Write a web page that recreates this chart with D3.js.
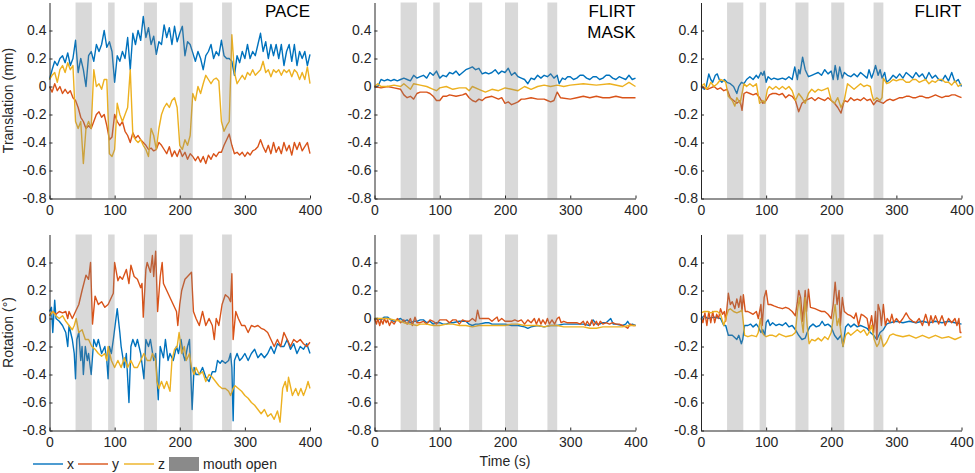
<!DOCTYPE html>
<html><head><meta charset="utf-8">
<script src="https://cdn.jsdelivr.net/npm/d3@7"></script>
<style>
body{margin:0;background:#fff;}
svg{display:block;font-family:"Liberation Sans",Arial,Helvetica,sans-serif;}
</style></head>
<body><svg id="chart" width="975" height="473"></svg>
<script>
// ---------- DATA ----------
const xTicks = [0,100,200,300,400];
const yTicks = [-0.8,-0.6,-0.4,-0.2,0,0.2,0.4];
const mouthOpen = [[40,65],[90,100],[145,165],[200,220],[265,280]];
const seriesNames = ["x","y","z"];
const panelTitles = [["PACE"],["FLIRT","MASK"],["FLIRT"]];
const rowLabels = ["Translation (mm)","Rotation (°)"];

// Translation - PACE
const paceTx = [[0,.05],[4,.12],[8,.18],[12,.15],[16,.2],[20,.22],[24,.17],[28,.24],[32,.15],[36,.2],[40,.33],[44,.1],[48,.2],[52,.12],[56,0],[60,.22],[64,.25],[68,.18],[72,.3],[76,.25],[80,.3],[84,.4],[88,.28],[92,.32],[96,.25],[100,.03],[104,.22],[108,.18],[112,.25],[116,.2],[120,.35],[124,.12],[128,.38],[132,.3],[136,.4],[140,.33],[144,.5],[148,.35],[152,.42],[156,.3],[160,.36],[164,.23],[168,.32],[172,.3],[176,.44],[180,.35],[184,.42],[188,.3],[192,.43],[196,.32],[200,.38],[204,.43],[208,.22],[212,.32],[216,.3],[220,.24],[224,.18],[228,.25],[232,.2],[236,.12],[240,.22],[244,.25],[248,.3],[252,.2],[256,.25],[260,.22],[264,.33],[268,.22],[272,.2],[276,.2],[280,.18],[284,.08],[288,.22],[292,.17],[296,.25],[300,.2],[304,.3],[308,.2],[312,.25],[316,.22],[320,.3],[324,.38],[328,.25],[332,.32],[336,.2],[340,.3],[344,.22],[348,.3],[352,.2],[356,.3],[360,.15],[364,.25],[368,.3],[372,.18],[376,.3],[380,.15],[384,.25],[388,.2],[392,.25],[396,.15],[400,.23]];
const paceTy = [[0,0],[4,-.04],[8,.02],[12,-.03],[16,0],[20,-.05],[24,-.02],[28,-.05],[32,-.03],[36,-.08],[40,-.1],[44,-.15],[48,-.22],[52,-.25],[56,-.3],[60,-.28],[64,-.3],[68,-.25],[72,-.2],[76,-.18],[80,-.22],[84,-.2],[88,-.28],[92,-.38],[96,-.36],[100,-.2],[104,-.25],[108,-.28],[112,-.25],[116,-.32],[120,-.35],[124,-.4],[128,-.33],[132,-.37],[136,-.35],[140,-.38],[144,-.4],[148,-.42],[152,-.45],[156,-.44],[160,-.46],[164,-.45],[168,-.4],[172,-.42],[176,-.45],[180,-.48],[184,-.43],[188,-.5],[192,-.46],[196,-.5],[200,-.45],[204,-.5],[208,-.47],[212,-.52],[216,-.48],[220,-.5],[224,-.53],[228,-.5],[232,-.54],[236,-.5],[240,-.55],[244,-.49],[248,-.52],[252,-.48],[256,-.5],[260,-.47],[264,-.47],[268,-.42],[272,-.38],[276,-.34],[280,-.42],[284,-.48],[288,-.47],[292,-.49],[296,-.47],[300,-.5],[304,-.47],[308,-.49],[312,-.46],[316,-.45],[320,-.43],[324,-.38],[328,-.43],[332,-.47],[336,-.42],[340,-.48],[344,-.4],[348,-.47],[352,-.43],[356,-.48],[360,-.4],[364,-.46],[368,-.42],[372,-.49],[376,-.4],[380,-.45],[384,-.4],[388,-.46],[392,-.43],[396,-.4],[400,-.48]];
const paceTz = [[0,.05],[4,.08],[8,.1],[12,.03],[16,.12],[20,.15],[24,.1],[28,.17],[32,.12],[36,.15],[40,-.25],[44,-.3],[48,-.25],[52,-.55],[56,-.3],[60,-.25],[64,-.3],[68,.12],[72,0],[76,.02],[80,-.02],[84,.05],[88,.05],[92,-.48],[96,-.5],[100,-.45],[104,-.12],[108,-.2],[112,-.25],[116,-.2],[120,-.15],[124,.12],[128,-.35],[132,-.38],[136,-.4],[140,-.38],[144,-.42],[148,-.45],[152,-.5],[156,-.3],[160,-.35],[164,-.45],[168,-.3],[172,-.2],[176,-.15],[180,-.12],[184,-.15],[188,-.1],[192,-.08],[196,-.15],[200,-.42],[204,-.45],[208,-.38],[212,-.42],[216,-.35],[220,-.05],[224,-.1],[228,0],[232,-.05],[236,.02],[240,.08],[244,.05],[248,.02],[252,.05],[256,.06],[260,.04],[264,-.25],[268,-.32],[272,-.28],[276,-.25],[280,.37],[284,.1],[288,.02],[292,.05],[296,.08],[300,.05],[304,.1],[308,.08],[312,.12],[316,.08],[320,.1],[324,.12],[328,.18],[332,.1],[336,.12],[340,.07],[344,.12],[348,.1],[352,.12],[356,.08],[360,.12],[364,.1],[368,.12],[372,.07],[376,.12],[380,.1],[384,.05],[388,.1],[392,.05],[396,.14],[400,.02]];

// Translation - FLIRT MASK
const maskTx = [[0,0],[5,0],[10,.05],[15,.04],[20,.05],[25,.04],[30,.05],[35,.04],[40,.05],[45,.06],[50,.05],[55,.04],[60,.08],[65,.06],[70,.07],[75,.08],[80,.06],[85,.1],[90,.08],[95,.11],[100,.06],[105,.08],[110,.07],[115,.1],[120,.09],[125,.11],[130,.08],[135,.1],[140,.12],[145,.13],[150,.14],[155,.12],[160,.13],[165,.09],[170,.1],[175,.09],[180,.1],[185,.12],[190,.09],[195,.11],[200,.1],[205,.13],[210,.08],[215,.1],[220,.07],[225,.06],[230,.05],[235,.02],[240,.06],[245,.05],[250,.08],[255,.06],[260,.08],[265,.07],[270,.09],[275,.06],[280,.08],[283,.02],[288,.06],[292,.05],[296,.07],[300,.07],[305,.05],[310,.06],[315,.08],[320,.08],[325,.06],[330,.05],[335,.07],[340,.07],[345,.05],[350,.06],[355,.08],[360,.08],[365,.06],[370,.05],[375,.07],[380,.06],[385,.05],[390,.08],[395,.05],[400,.06]];
const maskTy = [[0,0],[10,-.01],[20,0],[30,-.01],[40,-.02],[45,-.06],[50,-.08],[55,-.07],[60,-.09],[65,-.05],[70,-.04],[80,-.04],[85,-.05],[90,-.07],[95,-.1],[100,-.1],[105,-.07],[110,-.07],[115,-.06],[125,-.07],[135,-.06],[140,-.05],[145,-.08],[150,-.1],[155,-.11],[160,-.09],[165,-.1],[170,-.08],[180,-.07],[190,-.09],[195,-.08],[200,-.12],[205,-.11],[210,-.13],[215,-.12],[220,-.11],[225,-.09],[230,-.09],[240,-.08],[250,-.09],[260,-.09],[265,-.1],[270,-.11],[275,-.1],[280,-.04],[285,-.08],[300,-.09],[310,-.08],[320,-.07],[330,-.08],[340,-.07],[350,-.08],[360,-.08],[370,-.07],[380,-.08],[390,-.08],[400,-.08]];
const maskTz = [[0,0],[5,.02],[10,0],[20,0],[30,.01],[40,0],[45,.02],[50,0],[55,-.02],[60,.02],[70,.01],[80,0],[90,-.02],[95,-.03],[100,-.01],[110,0],[120,-.02],[130,-.01],[140,-.01],[145,-.03],[150,0],[160,-.02],[170,-.04],[180,-.02],[190,-.03],[200,-.01],[210,-.02],[220,-.03],[230,0],[240,-.02],[250,0],[260,.01],[270,0],[280,.01],[290,0],[300,.01],[320,.02],[340,.01],[360,.02],[380,0],[390,.03],[400,0]];

// Translation - FLIRT
const flirtTx = [[0,0],[5,-.02],[8,0],[12,.09],[15,.05],[18,.03],[22,.08],[25,.09],[28,.05],[32,.03],[36,.05],[40,.03],[45,.02],[50,0],[55,-.05],[58,0],[62,.03],[66,.02],[70,.05],[75,.07],[80,.05],[85,.08],[88,.06],[92,.1],[95,.08],[97,.11],[100,.03],[103,.07],[108,.05],[112,.06],[118,.05],[125,.06],[130,.05],[135,.07],[140,.05],[144,.14],[148,.05],[150,.12],[152,.09],[156,.21],[160,.12],[165,.07],[170,.08],[175,.09],[180,.1],[185,.08],[190,.12],[195,.09],[200,.11],[203,.05],[206,.15],[210,.05],[213,.14],[217,.06],[220,.1],[225,.08],[230,.07],[235,.09],[240,.07],[245,.1],[250,.08],[255,.06],[258,.12],[262,.06],[265,.1],[268,.15],[272,.08],[275,.12],[278,.06],[282,.1],[285,.03],[290,.05],[295,.08],[300,.06],[305,.09],[310,.06],[315,.1],[320,.08],[325,.06],[330,.1],[335,.07],[340,.09],[345,.05],[350,.1],[355,.06],[360,.08],[365,.05],[370,.04],[375,.08],[380,.04],[385,.1],[390,.03],[395,.05],[400,0]];
const flirtTy = [[0,0],[5,-.01],[10,-.02],[15,-.01],[20,0],[25,-.02],[30,-.01],[35,-.03],[40,-.02],[45,-.08],[50,-.1],[55,-.12],[60,-.1],[63,-.17],[66,-.05],[70,-.04],[75,-.05],[80,-.06],[85,-.05],[90,-.08],[95,-.12],[100,-.1],[105,-.06],[110,-.05],[115,-.05],[120,-.06],[125,-.05],[130,-.08],[135,-.06],[140,-.07],[145,-.1],[150,-.18],[155,-.12],[160,-.1],[165,-.09],[170,-.08],[175,-.1],[180,-.08],[185,-.09],[190,-.1],[195,-.08],[200,-.1],[205,-.12],[210,-.15],[215,-.19],[220,-.1],[225,-.11],[230,-.08],[235,-.1],[240,-.09],[245,-.1],[250,-.08],[255,-.1],[260,-.09],[265,-.13],[270,-.1],[275,-.11],[280,-.12],[285,-.1],[290,-.09],[295,-.1],[300,-.09],[305,-.08],[310,-.08],[315,-.07],[320,-.07],[325,-.08],[330,-.08],[335,-.07],[340,-.07],[345,-.08],[350,-.08],[355,-.07],[360,-.06],[365,-.07],[370,-.08],[375,-.07],[380,-.07],[385,-.06],[390,-.06],[395,-.07],[400,-.08]];
const flirtTz = [[0,0],[5,.02],[8,-.02],[12,0],[15,.03],[20,0],[25,.02],[30,.05],[35,.04],[38,.03],[42,-.07],[48,-.1],[52,-.14],[55,-.08],[60,-.12],[66,.02],[70,0],[75,.02],[80,0],[85,.02],[90,-.12],[95,-.1],[98,-.12],[102,-.02],[105,0],[110,-.02],[115,0],[120,-.02],[125,0],[130,-.02],[135,0],[140,-.03],[145,-.1],[150,-.05],[155,-.08],[160,-.12],[165,-.05],[170,-.02],[175,-.04],[180,-.02],[185,-.03],[190,-.02],[195,-.01],[200,-.1],[205,-.12],[210,-.08],[215,-.15],[220,-.1],[222,-.05],[225,.02],[230,0],[235,-.02],[240,0],[245,.02],[250,0],[255,.01],[260,0],[262,-.05],[265,-.1],[270,-.08],[275,-.1],[278,-.08],[280,.06],[285,.02],[290,.03],[295,.05],[300,.04],[305,.05],[310,.05],[315,.03],[320,.03],[325,.05],[330,.05],[335,.03],[340,.04],[345,.05],[350,.02],[355,.04],[360,.03],[365,.05],[370,.05],[375,.03],[380,.03],[385,.01],[390,.04],[395,0],[400,.02]];

// Rotation - PACE
const paceRx = [[0,.05],[3,.08],[5,-.1],[8,.13],[10,0],[15,-.02],[20,-.05],[25,-.1],[28,-.2],[30,-.05],[35,-.15],[38,-.25],[40,-.43],[42,-.15],[45,-.1],[48,-.3],[50,-.2],[52,-.4],[55,-.2],[58,-.3],[60,-.25],[64,-.4],[68,-.15],[72,-.2],[75,-.15],[80,-.25],[85,-.2],[88,-.3],[90,-.43],[92,-.2],[95,-.25],[98,-.15],[104,.07],[108,-.1],[110,-.2],[115,-.35],[118,-.25],[122,-.6],[125,-.2],[128,-.15],[132,-.2],[135,-.15],[140,-.25],[145,-.43],[148,-.15],[152,-.2],[155,-.15],[160,-.3],[163,-.25],[167,-.58],[170,-.2],[175,-.28],[178,-.15],[182,-.3],[185,-.25],[190,-.3],[195,-.2],[198,-.25],[202,-.15],[205,-.25],[208,-.3],[212,-.2],[215,-.15],[219,-.65],[222,-.35],[225,-.4],[230,-.4],[235,-.35],[240,-.42],[245,-.45],[250,-.38],[255,-.38],[258,-.3],[262,-.32],[265,-.3],[270,-.32],[275,-.3],[278,-.25],[280,-.35],[282,-.73],[284,-.3],[288,-.25],[292,-.3],[296,-.28],[300,-.25],[305,-.3],[310,-.25],[315,-.22],[320,-.28],[325,-.25],[330,-.28],[335,-.25],[340,-.2],[345,-.25],[350,-.18],[355,-.2],[360,-.2],[365,-.15],[370,-.22],[375,-.18],[380,-.25],[385,-.2],[390,-.22],[395,-.18],[400,-.25]];
const paceRy = [[0,.02],[5,.05],[10,.03],[15,.05],[20,.04],[25,.05],[28,0],[30,.05],[35,0],[40,.05],[45,.1],[50,.2],[56,.31],[60,.28],[63,.4],[66,-.04],[70,.16],[75,.1],[80,.12],[85,.08],[90,.1],[95,.15],[98,.18],[100,.4],[105,.27],[108,.3],[112,.28],[118,.35],[122,.25],[125,.38],[130,.3],[135,.28],[140,.22],[142,.25],[144,.01],[148,.35],[150,.4],[155,.33],[158,.45],[160,.3],[163,.48],[166,.05],[170,.3],[173,.4],[175,.25],[180,.2],[185,.15],[190,.1],[195,.05],[197,-.05],[200,.1],[203,.2],[208,.28],[212,.3],[218,.33],[221,.05],[225,0],[230,-.05],[235,.05],[240,-.05],[245,0],[250,-.05],[253,-.15],[256,0],[260,-.05],[265,.1],[270,.17],[275,.15],[278,.12],[280,.32],[282,-.15],[286,.05],[290,0],[295,-.05],[300,-.05],[305,-.1],[310,-.05],[315,-.06],[320,-.05],[325,-.07],[330,-.08],[335,-.1],[340,-.15],[345,-.2],[350,-.15],[355,-.2],[360,-.1],[365,-.15],[370,-.2],[375,-.15],[380,-.17],[385,-.15],[390,-.18],[395,-.2],[400,-.17]];
const paceRz = [[0,.02],[5,.05],[10,.02],[15,0],[20,.02],[25,-.02],[30,-.05],[35,-.08],[38,-.05],[41,0],[45,-.1],[50,-.08],[55,-.15],[60,-.15],[65,-.2],[70,-.22],[75,-.25],[80,-.27],[85,-.25],[88,-.3],[90,-.2],[95,-.3],[100,-.35],[105,-.3],[110,-.35],[115,-.28],[120,-.35],[125,-.3],[130,-.35],[135,-.35],[140,-.3],[145,-.25],[150,-.3],[155,-.3],[158,-.25],[163,-.3],[165,-.45],[168,-.5],[172,-.45],[176,-.5],[180,-.45],[185,-.52],[188,-.3],[192,-.22],[196,-.2],[199,-.1],[203,-.25],[207,-.2],[210,-.3],[215,-.25],[218,-.35],[222,-.4],[225,-.35],[230,-.4],[235,-.38],[240,-.45],[245,-.4],[250,-.42],[255,-.45],[260,-.48],[265,-.5],[270,-.5],[275,-.52],[278,-.55],[282,-.5],[285,-.48],[290,-.5],[295,-.52],[300,-.55],[305,-.57],[310,-.6],[315,-.62],[320,-.65],[325,-.68],[330,-.65],[335,-.7],[340,-.68],[345,-.72],[350,-.66],[354,-.74],[358,-.5],[362,-.45],[365,-.52],[367,-.42],[373,-.55],[378,-.5],[382,-.55],[386,-.5],[390,-.55],[394,-.5],[397,-.45],[400,-.5]];

// Rotation - FLIRT MASK
const maskRx = [[0,0],[5,0],[10,-.01],[15,.01],[20,.01],[25,-.01],[30,-.02],[35,-.01],[40,0],[45,-.02],[50,-.01],[55,-.03],[60,-.02],[65,-.02],[70,-.01],[75,-.01],[80,-.03],[85,-.02],[90,-.04],[95,-.03],[100,-.03],[105,-.04],[110,-.04],[115,-.03],[120,-.03],[130,-.02],[140,-.02],[145,-.04],[150,-.05],[155,-.04],[160,-.04],[170,-.03],[175,-.03],[180,-.04],[190,-.04],[200,-.04],[210,-.05],[220,-.05],[230,-.06],[235,-.07],[240,-.06],[250,-.05],[260,-.06],[270,-.05],[275,-.05],[280,-.05],[290,-.04],[300,-.04],[310,-.04],[320,-.04],[330,-.05],[335,-.01],[340,-.04],[345,-.04],[350,-.03],[355,-.03],[362,0],[366,-.04],[370,-.04],[380,-.05],[385,-.04],[388,-.02],[392,-.05],[395,-.04],[400,-.05]];
const maskRy = [[0,0],[3,-.04],[5,0],[8,-.05],[10,-.01],[13,-.04],[15,0],[18,-.03],[20,-.01],[23,-.05],[26,-.02],[30,-.04],[35,0],[40,-.03],[45,-.01],[50,-.04],[55,0],[58,-.05],[62,.01],[65,-.03],[70,-.03],[75,-.02],[80,-.04],[85,-.01],[90,-.02],[95,-.04],[100,-.01],[105,-.01],[110,-.01],[115,-.03],[120,-.01],[125,-.01],[130,-.04],[135,-.01],[140,-.02],[145,-.02],[150,0],[155,-.02],[158,.06],[161,0],[165,0],[170,0],[175,0],[180,-.02],[185,0],[188,.01],[190,-.02],[195,0],[200,-.02],[205,-.02],[210,-.02],[215,-.01],[220,-.02],[225,-.01],[230,-.04],[235,-.01],[240,-.03],[245,0],[248,-.04],[252,0],[255,-.04],[258,-.01],[262,-.04],[265,0],[268,-.04],[272,-.01],[276,-.04],[280,0],[283,.01],[286,-.03],[290,-.02],[295,-.03],[300,-.03],[310,-.03],[315,-.04],[320,-.02],[323,-.05],[326,-.02],[330,-.05],[333,-.01],[336,-.05],[340,-.02],[343,-.05],[346,-.02],[350,-.04],[355,-.03],[360,-.04],[365,-.03],[370,-.04],[375,-.04],[380,-.05],[385,-.06],[388,-.07],[392,-.04],[396,-.05],[400,-.05]];
const maskRz = [[0,0],[10,0],[20,0],[30,-.01],[40,-.02],[45,-.03],[55,-.04],[65,-.05],[70,-.04],[80,-.04],[90,-.05],[100,-.05],[110,-.04],[120,-.04],[130,-.05],[140,-.05],[150,-.06],[160,-.05],[170,-.05],[180,-.05],[190,-.05],[200,-.05],[210,-.04],[220,-.04],[230,-.05],[240,-.05],[250,-.05],[260,-.06],[270,-.05],[280,-.05],[290,-.06],[300,-.06],[310,-.06],[320,-.06],[330,-.07],[340,-.07],[350,-.06],[360,-.06],[370,-.06],[380,-.06],[390,-.05],[400,-.05]];

// Rotation - FLIRT
const flirtRx = [[0,0],[5,.02],[10,0],[20,.01],[30,0],[35,-.05],[38,-.05],[42,-.12],[48,-.12],[55,-.15],[58,-.12],[62,-.18],[64,-.15],[67,-.05],[72,-.05],[76,-.04],[80,-.06],[85,-.04],[88,-.06],[92,-.1],[95,-.08],[98,-.12],[100,-.03],[103,-.01],[106,-.05],[110,-.03],[115,-.05],[120,-.04],[125,-.05],[130,-.03],[135,-.06],[140,-.05],[145,-.08],[150,-.12],[155,-.15],[160,-.14],[163,-.1],[167,-.06],[172,-.04],[177,-.06],[182,-.05],[186,-.02],[190,-.05],[195,-.04],[200,-.06],[205,-.12],[210,-.15],[215,-.12],[218,-.2],[222,-.06],[226,-.04],[230,-.06],[235,-.04],[240,-.06],[245,-.05],[250,-.06],[255,-.07],[260,-.1],[265,-.12],[270,-.15],[275,-.1],[280,-.08],[285,-.04],[290,-.03],[300,-.02],[310,-.03],[320,-.02],[330,-.03],[340,-.02],[350,-.03],[360,-.02],[370,-.03],[380,-.02],[390,-.03],[400,-.04]];
const flirtRy = [[0,0],[3,-.03],[6,.04],[9,-.05],[12,.05],[15,-.03],[18,.05],[21,-.03],[24,.03],[27,0],[30,.07],[33,.03],[36,.05],[38,-.02],[42,.18],[45,.1],[48,.12],[52,.07],[55,.14],[58,.08],[61,.16],[63,.05],[65,.17],[68,.05],[72,.05],[76,.04],[80,.03],[85,.05],[88,0],[92,.1],[94,-.05],[97,.15],[100,.2],[103,.1],[107,.1],[112,.09],[118,.08],[125,.07],[130,.08],[135,.07],[140,.05],[145,.02],[148,.12],[150,.2],[153,.15],[156,-.02],[160,.2],[162,.05],[165,.21],[168,.08],[175,.07],[180,.06],[185,.05],[190,.05],[195,.03],[200,0],[203,.1],[206,.26],[209,.1],[212,.2],[214,-.05],[217,.15],[220,.05],[225,.03],[230,.02],[235,0],[238,.04],[242,-.05],[246,.03],[250,.02],[255,0],[258,-.08],[262,.02],[265,-.1],[268,.05],[270,-.15],[272,.1],[275,.05],[277,-.05],[280,.1],[283,-.05],[286,0],[290,-.03],[293,.03],[296,-.03],[300,0],[305,-.03],[310,0],[315,.04],[320,0],[325,-.02],[330,-.03],[335,0],[340,-.05],[345,.03],[350,-.05],[353,.02],[356,-.03],[360,.02],[365,-.04],[370,.02],[375,-.05],[380,0],[385,-.03],[390,0],[393,-.05],[396,0],[398,-.1],[400,-.1]];
const flirtRz = [[0,.04],[5,.05],[10,.05],[15,.04],[20,.05],[25,.05],[30,.03],[35,-.05],[38,0],[42,.06],[45,.07],[50,.05],[55,.04],[60,.05],[63,.06],[67,-.12],[72,-.13],[78,-.12],[85,-.13],[88,-.1],[91,0],[94,-.1],[97,-.12],[100,-.13],[105,-.12],[110,-.12],[115,-.13],[120,-.11],[125,-.12],[130,-.13],[140,-.12],[145,-.1],[148,.05],[151,.15],[154,0],[157,-.1],[160,.15],[163,-.05],[166,-.18],[170,-.15],[175,-.16],[180,-.14],[185,-.16],[190,-.13],[195,-.15],[200,-.1],[203,0],[206,.1],[209,-.05],[212,0],[215,-.1],[218,-.2],[222,-.12],[226,-.1],[230,-.12],[235,-.1],[240,-.08],[245,-.1],[250,-.08],[255,-.12],[258,-.1],[262,-.05],[266,-.15],[270,-.2],[273,-.18],[276,-.12],[280,-.2],[285,-.17],[290,-.12],[295,-.11],[300,-.12],[310,-.13],[320,-.12],[330,-.14],[340,-.12],[350,-.14],[360,-.12],[370,-.14],[380,-.13],[390,-.15],[400,-.13]];

// ---------- LAYOUT ----------
const colors = ["#0072BD","#D95319","#EDB120"];
const colX = [[49.5,310],[374.5,635.5],[701,961.5]];
const rowY = [[198.5,2.5],[430.5,234.5]];
const panels = [
  {row:0,col:0,series:[paceTx,paceTy,paceTz]},
  {row:0,col:1,series:[maskTx,maskTy,maskTz]},
  {row:0,col:2,series:[flirtTx,flirtTy,flirtTz]},
  {row:1,col:0,series:[paceRx,paceRy,paceRz]},
  {row:1,col:1,series:[maskRx,maskRy,maskRz]},
  {row:1,col:2,series:[flirtRx,flirtRy,flirtRz]}
];

const svg = d3.select("#chart");
const fontSize = 14;

panels.forEach(p => {
  const x = d3.scaleLinear().domain([0,400]).range(colX[p.col]);
  const y = d3.scaleLinear().domain([-0.8,0.6]).range(rowY[p.row]);
  const g = svg.append("g");

  // lines
  const line = d3.line().x(d => x(d[0])).y(d => y(d[1]));
  p.series.forEach((s,i) => {
    g.append("path").datum(s).attr("d", line)
      .attr("fill","none").attr("stroke",colors[i]).attr("stroke-width",1.4)
      .attr("stroke-linejoin","round");
  });

  // mouth-open bands (semi-transparent, on top)
  g.selectAll("rect.band").data(mouthOpen).join("rect").attr("class","band")
    .attr("x", d => x(d[0])).attr("width", d => x(d[1]) - x(d[0]))
    .attr("y", y(0.6)).attr("height", y(-0.8) - y(0.6))
    .attr("fill","#808080").attr("fill-opacity",0.3);

  // axes
  const xa = d3.axisBottom(x).tickValues(xTicks).tickSizeInner(-3).tickSizeOuter(0).tickPadding(6.5).tickFormat(d => String(d));
  const ya = d3.axisLeft(y).tickValues(yTicks).tickSizeInner(-3).tickSizeOuter(0).tickPadding(3).tickFormat(d => d === 0 ? "0" : String(d));
  const gx = g.append("g").attr("transform",`translate(0,${y(-0.8)})`).call(xa);
  const gy = g.append("g").attr("transform",`translate(${x(0)},0)`).call(ya);
  [gx,gy].forEach(a => {
    a.select(".domain").attr("stroke","#262626").attr("stroke-width",1);
    a.selectAll(".tick line").attr("stroke","#262626");
    a.selectAll("text").attr("font-size",fontSize).attr("fill","#262626").attr("font-family",null);
  });

  // panel title
  if (p.row === 0) {
    const t = g.append("text").attr("text-anchor","end").attr("font-size",17).attr("fill","#000");
    panelTitles[p.col].forEach((s,k) => {
      t.append("tspan").attr("x", x(400)).attr("y", 17 + k*21).text(s);
    });
  }
  // row label
  if (p.col === 0) {
    const cy = (rowY[p.row][0] + rowY[p.row][1]) / 2;
    svg.append("text").attr("transform",`translate(13,${cy}) rotate(-90)`)
      .attr("text-anchor","middle").attr("font-size",fontSize).attr("fill","#262626").text(rowLabels[p.row]);
  }
});

// x axis title
svg.append("text").attr("x",(colX[1][0]+colX[1][1])/2).attr("y",466)
  .attr("text-anchor","middle").attr("font-size",fontSize).attr("fill","#262626").text("Time (s)");

// legend
const lg = svg.append("g").attr("transform","translate(0,464)");
const legendItems = [
  {type:"line",label:seriesNames[0],color:colors[0],x:33},
  {type:"line",label:seriesNames[1],color:colors[1],x:78},
  {type:"line",label:seriesNames[2],color:colors[2],x:124},
  {type:"patch",label:"mouth open",color:"#8a8a8a",x:169}
];
legendItems.forEach(it => {
  if (it.type === "line") {
    lg.append("line").attr("x1",it.x).attr("x2",it.x+30).attr("y1",0).attr("y2",0)
      .attr("stroke",it.color).attr("stroke-width",1.4);
  } else {
    lg.append("rect").attr("x",it.x).attr("y",-7).attr("width",30).attr("height",14).attr("fill",it.color);
  }
  lg.append("text").attr("x",it.x+34).attr("y",5).attr("font-size",fontSize).attr("fill","#262626").text(it.label);
});
</script></body></html>
